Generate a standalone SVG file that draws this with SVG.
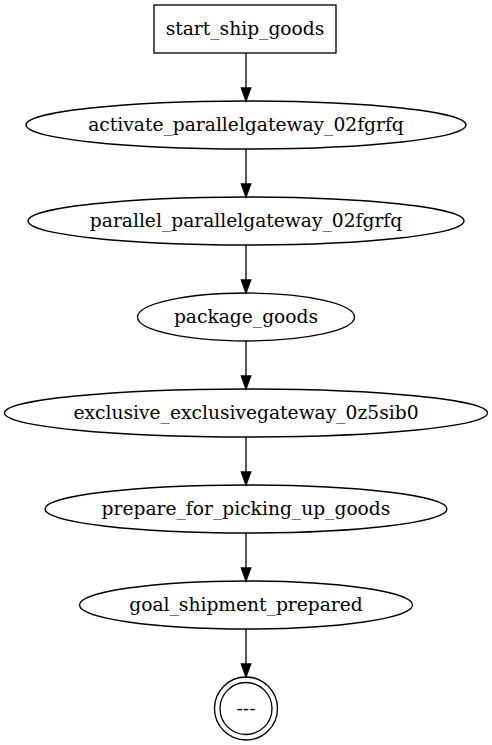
<svg xmlns="http://www.w3.org/2000/svg" width="492" height="745" viewBox="0 0 492 745">
<defs>
<style>
.n{fill:none;stroke:#000;stroke-width:1.33}
.t{font-family:'DejaVu Serif',serif;font-size:18.67px;fill:#000;text-anchor:middle}
.e{stroke:#000;stroke-width:1.33;fill:none}
.a{fill:#000;stroke:#000;stroke-width:1.33}
</style>
</defs>
<rect width="492" height="745" fill="#fff"/>
<g id="edges">
<path class="e" d="M246,53 V88"/><polygon class="a" points="241.3,88 250.7,88 246,101"/>
<path class="e" d="M246,149 V184"/><polygon class="a" points="241.3,184 250.7,184 246,197"/>
<path class="e" d="M246,245 V280"/><polygon class="a" points="241.3,280 250.7,280 246,293"/>
<path class="e" d="M246,341 V376"/><polygon class="a" points="241.3,376 250.7,376 246,389"/>
<path class="e" d="M246,437 V472"/><polygon class="a" points="241.3,472 250.7,472 246,485"/>
<path class="e" d="M246,533 V568"/><polygon class="a" points="241.3,568 250.7,568 246,581"/>
<path class="e" d="M246,629 V664"/><polygon class="a" points="241.3,664 250.7,664 246,677"/>
</g>
<g id="start_ship_goods"><rect class="n" x="154" y="5" width="182" height="48"/><text class="t" x="245" y="35">start_ship_goods</text></g>
<g id="activate_parallelgateway_02fgrfq"><ellipse class="n" cx="246" cy="125" rx="220" ry="24"/><text class="t" x="246" y="131">activate_parallelgateway_02fgrfq</text></g>
<g id="parallel_parallelgateway_02fgrfq"><ellipse class="n" cx="246" cy="221" rx="218" ry="24"/><text class="t" x="246" y="227">parallel_parallelgateway_02fgrfq</text></g>
<g id="package_goods"><ellipse class="n" cx="246" cy="317" rx="108.5" ry="24"/><text class="t" x="246" y="323">package_goods</text></g>
<g id="exclusive_exclusivegateway_0z5sib0"><ellipse class="n" cx="246" cy="413" rx="241.5" ry="24"/><text class="t" x="246" y="419">exclusive_exclusivegateway_0z5sib0</text></g>
<g id="prepare_for_picking_up_goods"><ellipse class="n" cx="246" cy="509" rx="201" ry="24"/><text class="t" x="246" y="515">prepare_for_picking_up_goods</text></g>
<g id="goal_shipment_prepared"><ellipse class="n" cx="246" cy="605" rx="166.5" ry="24"/><text class="t" x="246" y="611">goal_shipment_prepared</text></g>
<g id="end"><circle class="n" cx="246" cy="708.5" r="31.5"/><circle class="n" cx="246" cy="708.5" r="26"/><text class="t" x="246" y="714.5">---</text></g>
</svg>
